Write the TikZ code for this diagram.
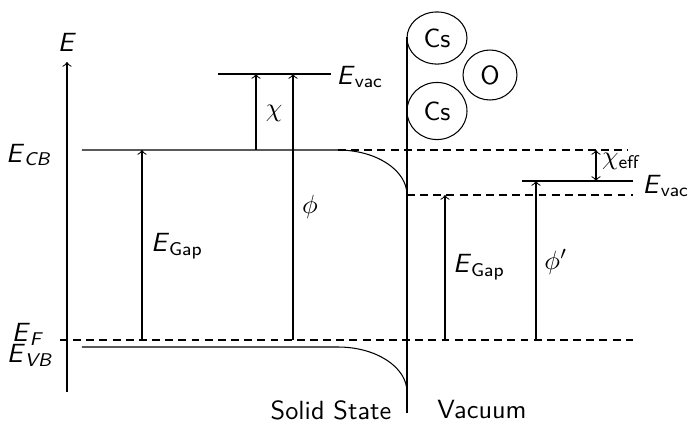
\documentclass[tikz,border=0pt]{standalone}
\usetikzlibrary{shapes.geometric}
\newcommand{\EE}{\textit{E}}
\begin{document}
\begin{tikzpicture}[x=0.38pt,y=-0.38pt,font=\sffamily,
  lbl/.style={inner sep=0pt},
  dlevel/.style={dash pattern=on 3pt off 2pt},
  arr/.style={->},
  atom/.style={draw, ellipse, inner sep=0pt}]
\useasboundingbox (0,0) rectangle (688,427);
% axis
\coordinate (axB) at (67,392);
\coordinate (axT) at (67,62);
\draw[arr] (axB) -- (axT);
\node[lbl] (Elab) at (67,42) {\EE};
% conduction band
\coordinate (cbL) at (82,150);
\coordinate (cbC) at (338,150);
\coordinate (cbE) at (407,195);
\coordinate (cbR) at (628,150);
\coordinate (cbER) at (633,195);
\draw (cbL) -- (cbC) .. controls (376,150) and (407,170) .. (cbE);
\draw[dlevel] (cbC) -- (cbR);
\draw[dlevel] (cbE) -- (cbER);
% valence band
\coordinate (vbL) at (82,347);
\coordinate (vbC) at (338,347);
\coordinate (vbE) at (407,392);
\draw (vbL) -- (vbC) .. controls (376,347) and (407,367) .. (vbE);
% Fermi level
\coordinate (efL) at (60,340);
\coordinate (efR) at (633,340);
\draw[dlevel] (efL) -- (efR);
% vacuum levels
\coordinate (evL1) at (218,74);
\coordinate (evL2) at (331,74);
\draw (evL1) -- (evL2);
\coordinate (evR1) at (522,181);
\coordinate (evR2) at (633,181);
\draw (evR1) -- (evR2);
% surface
\coordinate (sT) at (407,37);
\coordinate (sB) at (407,413);
\draw (sT) -- (sB);
% atoms
\node[atom, minimum width=22.8pt, minimum height=19.8pt] (cs1) at (437,38) {Cs};
\node[atom, minimum width=20.5pt, minimum height=19pt] (ox) at (490,75) {O};
\node[atom, minimum width=22.8pt, minimum height=21.7pt] (cs2) at (437,111) {Cs};
% arrows
\coordinate (chiB) at (256,150); \coordinate (chiT) at (256,74);
\draw[arr] (chiB) -- (chiT);
\coordinate (phiB) at (293,340); \coordinate (phiT) at (293,74);
\draw[arr] (phiB) -- (phiT);
\coordinate (gLB) at (142,340); \coordinate (gLT) at (142,150);
\draw[arr] (gLB) -- (gLT);
\coordinate (gRB) at (445,340); \coordinate (gRT) at (445,195);
\draw[arr] (gRB) -- (gRT);
\coordinate (ppB) at (536,340); \coordinate (ppT) at (536,181);
\draw[arr] (ppB) -- (ppT);
\coordinate (ceT) at (596,150); \coordinate (ceB) at (596,181);
\draw[<->] (ceT) -- (ceB);
% labels
\node[lbl] (lCB) at (29,155) {\EE\textsubscript{\textit{CB}}};
\node[lbl] (lF) at (28,334) {\EE\textsubscript{\textit{F}}};
\node[lbl] (lVB) at (30,355) {\EE\textsubscript{\textit{VB}}};
\node[lbl] (lvac1) at (360,77) {\EE\textsubscript{vac}};
\node[lbl] (lvac2) at (666,186) {\EE\textsubscript{vac}};
\node[lbl] (lchi) at (274,113) {$\chi$};
\node[lbl] (lphi) at (310,207) {$\phi$};
\node[lbl] (lgap1) at (177,246) {\EE\textsubscript{Gap}};
\node[lbl] (lgap2) at (479,267) {\EE\textsubscript{Gap}};
\node[lbl] (lphip) at (556,262) {$\phi'$};
\node[lbl] (lchie) at (621,161) {$\chi$\textsubscript{eff}};
\node[lbl] (lsolid) at (331,410) {Solid State};
\node[lbl] (lvac) at (482,410) {Vacuum};
\end{tikzpicture}
\end{document}
